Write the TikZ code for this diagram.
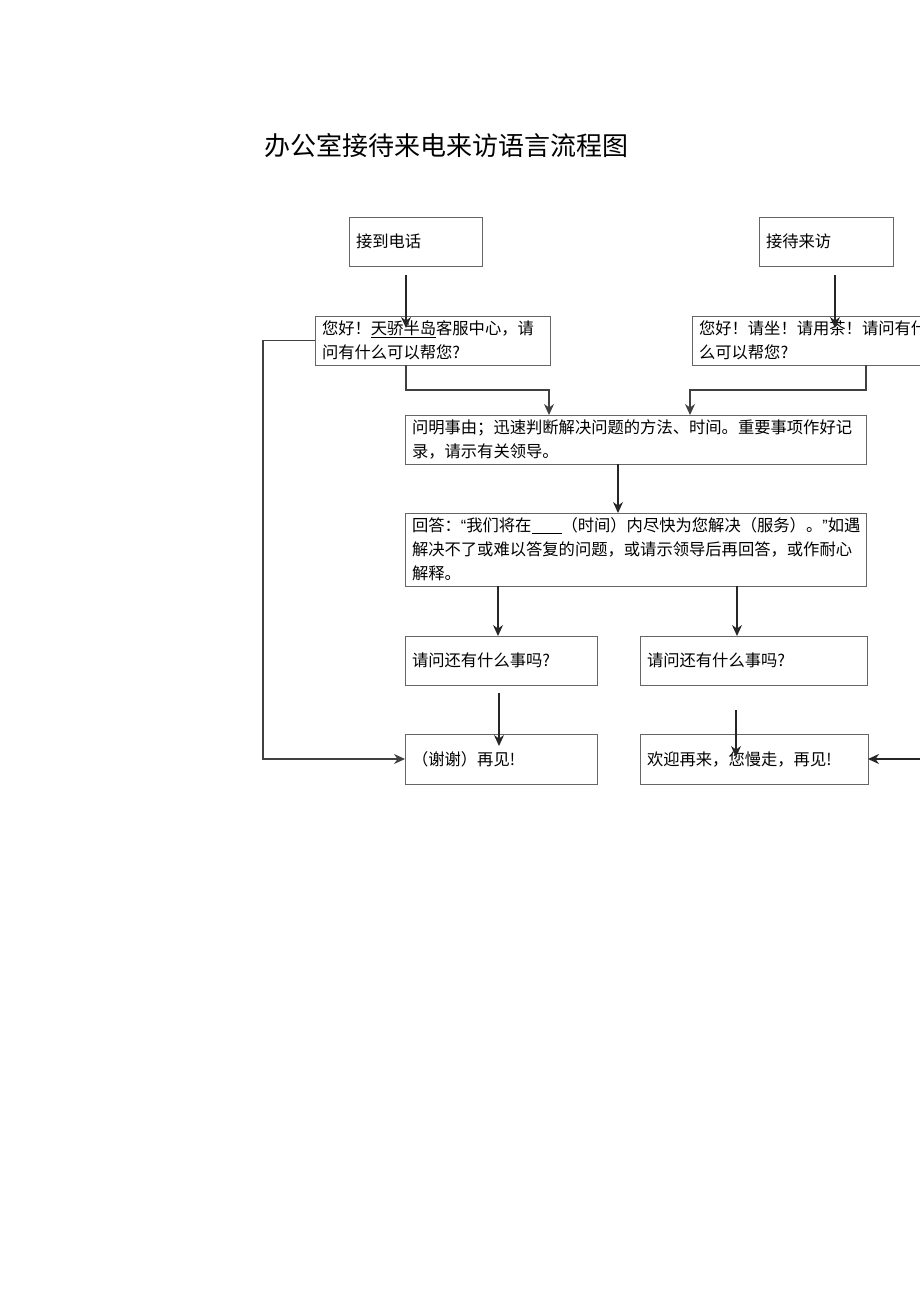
\documentclass[tikz,border=0pt]{standalone}
\usepackage{fontspec}
\setmainfont{Noto Sans CJK SC}
\newfontfamily\latq{Liberation Sans}
\usetikzlibrary{arrows.meta}
\tikzset{
  box/.style={draw=black!60, line width=0.9pt, anchor=north west, outer sep=0pt,
    inner xsep=7pt, inner ysep=0pt, align=left,
    font=\fontsize{16.3}{24}\selectfont},
  arr/.style={draw=black!85, line width=1.3pt, -{Stealth[length=11pt,width=10pt]}},
  elbow/.style={draw=black!75, line width=1.1pt, -{Stealth[length=11pt,width=10pt]}},
}
\begin{document}
\begin{tikzpicture}[x=1pt,y=1pt]
\useasboundingbox[fill=white] (0,0) rectangle (920,-1301);
\clip (0,0) rectangle (920,-1301);
\node[anchor=west, font=\fontsize{26}{30}\selectfont] (title) at (261,-146) {办公室接待来电来访语言流程图};

\node[box, text width=119pt, minimum height=49pt] (call) at (349,-217) {接到电话};
\node[box, text width=120pt, minimum height=49pt] (visit) at (759,-217) {接待来访};
\node[box, text width=221pt, minimum height=49pt] (g1) at (315,-316) {您好！\underline{天骄半岛}客服中心，请\\问有什么可以帮您?};
\node[box, text width=240pt, minimum height=49pt] (g2) at (692,-316) {您好！请坐！请用茶！请问有什\\么可以帮您?};
\node[box, text width=447pt, minimum height=49pt] (ask) at (405,-415) {问明事由；迅速判断解决问题的方法、时间。重要事项作好记\\录，请示有关领导。};
\node[box, text width=447pt, minimum height=73pt] (ans) at (405,-513) {回答：{\latq “}我们将在\rule[-2pt]{30pt}{0.6pt}（时间）内尽快为您解决（服务）。{\latq ”}如遇\\解决不了或难以答复的问题，或请示领导后再回答，或作耐心\\解释。};
\node[box, text width=178pt, minimum height=49pt] (more1) at (405,-636) {请问还有什么事吗?};
\node[box, text width=213pt, minimum height=49pt] (more2) at (640,-636) {请问还有什么事吗?};
\node[box, text width=178pt, minimum height=50pt] (bye1) at (405,-734) {（谢谢）再见!};
\node[box, text width=214pt, minimum height=50pt] (bye2) at (640,-734) {欢迎再来，您慢走，再见!};

\coordinate (rin) at (925,-759);

\draw[arr] ([shift={(57,-9)}]call.south west) -- ([shift={(91,-12)}]g1.north west);
\draw[arr] ([shift={(76,-9)}]visit.south west) -- ([shift={(143,-12)}]g2.north west);
\draw[elbow] ([xshift=91]g1.south west) |- ([shift={(144,25)}]ask.north west) -- ([xshift=144]ask.north west);
\draw[elbow] ([xshift=174]g2.south west) |- ([shift={(285,25)}]ask.north west) -- ([xshift=285]ask.north west);
\draw[arr] ([xshift=213]ask.south west) -- ([xshift=213]ans.north west);
\draw[arr] ([xshift=93]ans.south west) -- ([xshift=93]more1.north west);
\draw[arr] ([xshift=332]ans.south west) -- ([xshift=97]more2.north west);
\draw[arr] ([shift={(94,-8)}]more1.south west) -- ([shift={(94,-12)}]bye1.north west);
\draw[arr] ([shift={(96,-25)}]more2.south west) -- ([shift={(96,-23)}]bye2.north west);
\draw[elbow] (g1.west) -- ++(-52,0) |- (bye1.west);
\draw[arr] (rin) -- (bye2.east);
\end{tikzpicture}
\end{document}
